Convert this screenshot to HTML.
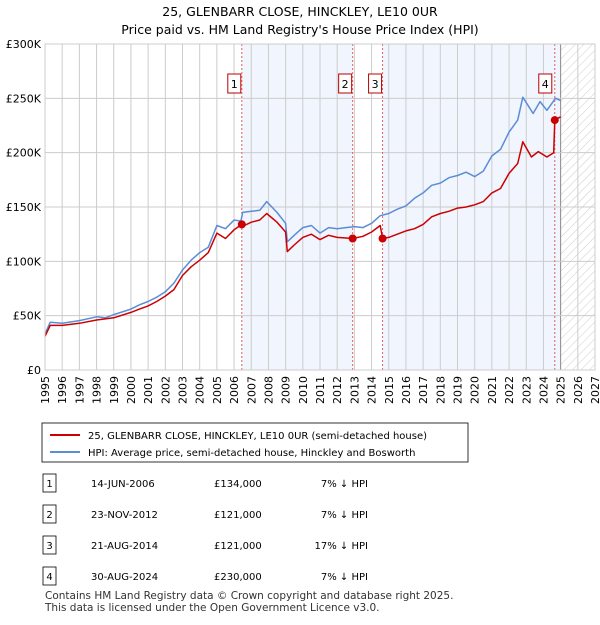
<!DOCTYPE html>
<html><head><meta charset="utf-8"><style>
body{margin:0;background:#fff;font-family:"Liberation Sans","DejaVu Sans",sans-serif;}
svg text{font-family:"DejaVu Sans","Liberation Sans",sans-serif;}
</style></head><body>
<svg id="c" width="600" height="620" xmlns="http://www.w3.org/2000/svg">
<defs><pattern id="hatch" width="6" height="6" patternUnits="userSpaceOnUse" patternTransform="rotate(45)"><line x1="0" y1="0" x2="0" y2="6" stroke="#ccc" stroke-width="1"/></pattern></defs>
<text x="300" y="16" text-anchor="middle" font-size="12.5" fill="#000">25, GLENBARR CLOSE, HINCKLEY, LE10 0UR</text>
<text x="300" y="34" text-anchor="middle" font-size="12.5" fill="#000">Price paid vs. HM Land Registry's House Price Index (HPI)</text>
<g id="plot"></g>
<rect x="42" y="423" width="426" height="39" fill="#fff" stroke="#000" stroke-width="0.8"/>
<line x1="50" y1="435" x2="80" y2="435" stroke="#cc0000" stroke-width="2"/>
<text x="88" y="439" font-size="10">25, GLENBARR CLOSE, HINCKLEY, LE10 0UR (semi-detached house)</text>
<line x1="50" y1="452" x2="80" y2="452" stroke="#5b8dd6" stroke-width="2"/>
<text x="88" y="456" font-size="10">HPI: Average price, semi-detached house, Hinckley and Bosworth</text>
<g id="table"></g>
<text x="45" y="599" font-size="10.5" fill="#333">Contains HM Land Registry data © Crown copyright and database right 2025.</text>
<text x="45" y="611" font-size="10.5" fill="#333">This data is licensed under the Open Government Licence v3.0.</text>
</svg>
<script>
const hpiT=[1995.0,1995.3,1996,1997,1998,1998.5,1999,2000,2000.5,2001,2001.5,2002,2002.5,2003,2003.5,2004,2004.5,2005,2005.5,2006,2006.4,2006.5,2007,2007.5,2007.9,2008.5,2009,2009.1,2009.5,2010,2010.5,2011,2011.5,2012,2012.5,2013,2013.5,2014,2014.5,2015,2015.5,2016,2016.5,2017,2017.5,2018,2018.5,2019,2019.5,2020,2020.5,2021,2021.5,2022,2022.5,2022.8,2023,2023.4,2023.8,2024.2,2024.7,2025];
const hpiV=[33,44,43,45.5,49,48,51,56,60,63,67,72,80,92,101,108,113,133,130,138,137,145,146,147,155,145,135,118,124,131,133,126,131,130,131,132,131,135,142,144,148,151,158,163,170,172,177,179,182,178,183,197,203,219,230,251,246,236,247,239,250,248];
const ppT=[1995.0,1995.3,1996,1997,1998,1999,2000,2000.5,2001,2001.5,2002,2002.5,2003,2003.5,2004,2004.5,2005,2005.5,2006,2006.45,2006.6,2007,2007.5,2007.9,2008.5,2009,2009.1,2009.5,2010,2010.5,2011,2011.5,2012,2012.9,2013.5,2014,2014.5,2014.64,2015,2015.5,2016,2016.5,2017,2017.5,2018,2018.5,2019,2019.5,2020,2020.5,2021,2021.5,2022,2022.5,2022.8,2023.3,2023.7,2024.2,2024.6,2024.66,2025];
const ppV=[31,41,41,43,46,48,53,56,59,63,68,74,87,95,101,108,126,121,129,134,133,136,138,144,136,127,109,115,122,125,120,124,122,121,123,127,133,121,122,125,128,130,134,141,144,146,149,150,152,155,163,167,181,190,210,196,201,196,200,230,233];
const saleT=[2006.45,2012.9,2014.64,2024.66];
const saleV=[134,121,121,230];
const saleLabels=["1","2","3","4"];
const saleDates=["14-JUN-2006","23-NOV-2012","21-AUG-2014","30-AUG-2024"];
const salePrices=["£134,000","£121,000","£121,000","£230,000"];
const saleDiff=["7% ↓ HPI","7% ↓ HPI","17% ↓ HPI","7% ↓ HPI"];
const yTicks=[0,50,100,150,200,250,300];
const yLabels=["£0","£50K","£100K","£150K","£200K","£250K","£300K"];
const x0=45,x1=595,y0=370,y1=44;
const X=t=>x0+(t-1995)/(2027-1995)*(x1-x0);
const Y=v=>y0-v/300*(y0-y1);
const NS="http://www.w3.org/2000/svg";
const plot=document.getElementById('plot');
function mk(tag,at,parent){const e=document.createElementNS(NS,tag);for(const k in at)e.setAttribute(k,at[k]);(parent||plot).appendChild(e);return e;}
let e;
e=mk('rect',{x:x0,y:y1,width:x1-x0,height:y0-y1,fill:'#fff'});


[[saleT[0],saleT[1]],[saleT[2],2025]].forEach(s=>{
 e=mk('rect',{x:X(s[0]),y:y1,width:X(s[1])-X(s[0]),height:y0-y1,fill:'#eef3fc',opacity:0.8});
 
 
});
e=mk('rect',{x:X(2025),y:y1,width:X(2027)-X(2025),height:y0-y1,fill:'url(#hatch)'});


for(let yr=1995;yr<=2027;yr++){
 e=mk('line',{x1:X(yr),x2:X(yr),y1:y1,y2:y0,stroke:yr==2025?'#888':'#ccc','stroke-width':1});
 
 
 const tx=mk('text',{x:0,y:0,'font-size':11,'text-anchor':'end',transform:`translate(${X(yr)+4},${y0+6}) rotate(-90)`});
 tx.textContent=yr;
 
 
}
yTicks.forEach((v,i)=>{
 e=mk('line',{x1:x0,x2:x1,y1:Y(v),y2:Y(v),stroke:'#ccc','stroke-width':1});
 
 
 const t=mk('text',{x:x0-4,y:Y(v)+4,'font-size':11,'text-anchor':'end'});
 t.textContent=yLabels[i];
 
 
});
saleT.forEach((t,i)=>{
 e=mk('line',{x1:X(t),x2:X(t),y1:y1,y2:y0,stroke:'#e06060','stroke-width':1,'stroke-dasharray':'2,2'});
 
 
 const bx=X(t)-(i==3?10:8);
 e=mk('rect',{x:bx-6,y:74,width:13,height:19,fill:'#fff',stroke:'#b00','stroke-width':1});
 
 
 const tx=mk('text',{x:bx+0.5,y:88,'font-size':11,'text-anchor':'middle'});
 tx.textContent=saleLabels[i];
 
 
});
function path(T,V,col,name){
 const d=T.map((t,i)=>(i?'L':'M')+X(t).toFixed(1)+','+Y(V[i]).toFixed(1)).join('');
 const p=mk('path',{d:d,fill:'none',stroke:col,'stroke-width':1.5,'stroke-linejoin':'round'});
 
 
}
path(hpiT,hpiV,'#5b8dd6','hpi-line');
path(ppT,ppV,'#cc0000','price-paid-line');
saleT.forEach((t,i)=>{
 const c=mk('circle',{cx:X(t),cy:Y(saleV[i]),r:4,fill:'#cc0000'});
 
 
});
e=mk('rect',{x:x0,y:y1,width:x1-x0,height:y0-y1,fill:'none',stroke:'#ccc'});


const tb=document.getElementById('table');
const rowY=[483,514,545,576];
saleT.forEach((t,i)=>{
 const y=rowY[i];
 e=mk('rect',{x:43,y:y-9,width:13,height:18,fill:'#fff',stroke:'#000','stroke-width':0.8},tb);
 
 
 const cells=[[49.5,saleLabels[i],'middle','table-marker'],[91,saleDates[i],'start','table-date'],[214,salePrices[i],'start','table-price'],[368,saleDiff[i],'end','table-hpi-diff']];
 cells.forEach(c=>{
  const tx=mk('text',{x:c[0],y:y+4,'font-size':10,'text-anchor':c[2]},tb);
  tx.textContent=c[1];
  
  
 });
});
</script>
</body></html>
